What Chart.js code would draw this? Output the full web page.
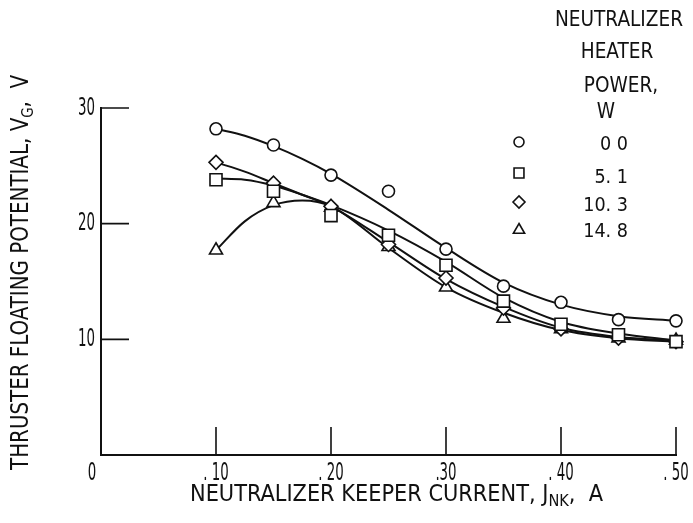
<!DOCTYPE html>
<html>
<head>
<meta charset="utf-8">
<script src="https://cdn.jsdelivr.net/npm/chart.js@4.4.1/dist/chart.umd.min.js"></script>
<style>
  html, body { margin: 0; padding: 0; background: #fff; }
  #wrap { width: 693px; height: 523px; }
</style>
</head>
<body>
<div id="wrap"><canvas id="chart" width="693" height="523"></canvas></div>
<script>
// neutralizer keeper current, A
const keeperCurrent = [0.10, 0.15, 0.20, 0.25, 0.30, 0.35, 0.40, 0.45, 0.50];

// measured thruster floating potential, V (one list per heater power)
const vgHeater00 = [28.2, 26.8, 24.2, 22.8, 17.8, 14.6, 13.2, 11.7, 11.6];
const vgHeater51 = [23.8, 22.8, 20.7, 19.0, 16.4, 13.3, 11.3, 10.4, 9.8];
const vgHeater103 = [25.3, 23.5, 21.5, 18.2, 15.3, 12.7, 10.9, 10.1, 9.8];
const vgHeater148 = [17.7, 21.8, 21.4, 18.0, 14.5, 11.8, 10.9, 10.1, 9.9];

// faired curves through each set
const fairCurrent = [0.10, 0.125, 0.15, 0.175, 0.20, 0.25, 0.30, 0.35, 0.40, 0.45, 0.50];
const fairHeater00 = [28.2, 27.6, 26.7, 25.6, 24.3, 21.2, 17.9, 14.9, 13.0, 12.0, 11.6];
const fairHeater51 = [23.9, 23.8, 23.3, 22.5, 21.6, 19.4, 16.7, 13.6, 11.5, 10.5, 9.9];
const fairHeater103 = [25.3, 24.5, 23.5, 22.5, 21.5, 18.4, 15.2, 12.8, 11.0, 10.2, 9.9];
const fairHeater148 = [17.7, 20.2, 21.6, 22.0, 21.5, 17.9, 14.5, 12.3, 10.8, 10.1, 9.8];

// axis ticks
const xTickValues = [0, 0.10, 0.20, 0.30, 0.40, 0.50];
const xTickLabels = ['0', '. 10', '. 20', '.30', '. 40', '. 50'];
const yTickValues = [10, 20, 30];
const yTickLabels = ['10', '20', '30'];

// legend
const legendLabels = ['0 0', '5. 1', '10. 3', '14. 8'];

const INK = '#111';
const FONT = '"Liberation Sans Narrow", "DejaVu Sans Condensed", "Liberation Sans", sans-serif';

const markerStyles = [
  { pointStyle: 'circle', radius: 6 },
  { pointStyle: 'rect', radius: 8.5 },
  { pointStyle: 'rectRot', radius: 7 },
  { pointStyle: 'triangle', radius: 7.5 }
];

function pairs(xs, ys) {
  return xs.map((x, i) => ({ x, y: ys[i] }));
}

function setFont(ctx, size) {
  ctx.font = `${size}px ${FONT}`;
}

function textWidth(ctx, str, size) {
  setFont(ctx, size);
  return ctx.measureText(str).width;
}

function drawSqueezed(ctx, str, x, y, size, sx, align) {
  const w = textWidth(ctx, str, size) * sx;
  const left = align === 'center' ? x - w / 2 : align === 'right' ? x - w : x;
  ctx.save();
  ctx.translate(left, y);
  ctx.scale(sx, 1);
  ctx.textAlign = 'left';
  ctx.textBaseline = 'middle';
  ctx.fillText(str, 0, 0);
  ctx.restore();
  return w;
}

// title made of pieces (for subscripts), stretched to a given length
function drawTitle(ctx, pieces, x, y, length) {
  const natural = pieces.reduce((s, p) => s + textWidth(ctx, p.t, p.size), 0);
  const sx = length / natural;
  let cx = x;
  pieces.forEach((p) => {
    cx += drawSqueezed(ctx, p.t, cx, y + (p.dy || 0), p.size, sx, 'left');
  });
}

const inkLayer = {
  id: 'inkLayer',
  afterDraw(chart) {
    const { ctx, chartArea, scales } = chart;
    const xs = scales.x;
    const ys = scales.y;
    ctx.save();
    ctx.fillStyle = INK;
    ctx.strokeStyle = INK;

    // inward tick marks
    ctx.lineWidth = 1.6;
    ctx.beginPath();
    yTickValues.forEach((v) => {
      const py = ys.getPixelForValue(v);
      ctx.moveTo(chartArea.left, py);
      ctx.lineTo(chartArea.left + 28, py);
    });
    xTickValues.forEach((v) => {
      if (v === 0) return;
      const px = xs.getPixelForValue(v);
      ctx.moveTo(px, chartArea.bottom);
      ctx.lineTo(px, chartArea.bottom - 28);
    });
    ctx.stroke();

    // tick labels
    const tickSize = 25;
    const tickSx = 17 / textWidth(ctx, '20', tickSize);
    yTickValues.forEach((v, i) => {
      drawSqueezed(ctx, yTickLabels[i], chartArea.left - 6, ys.getPixelForValue(v), tickSize, tickSx, 'right');
    });
    xTickValues.forEach((v, i) => {
      const px = xs.getPixelForValue(v) + (v === 0 ? -9 : 0);
      drawSqueezed(ctx, xTickLabels[i], px, chartArea.bottom + 18, tickSize, tickSx, 'center');
    });

    // x axis title
    drawTitle(ctx, [
      { t: 'NEUTRALIZER KEEPER CURRENT, J', size: 23 },
      { t: 'NK', size: 16, dy: 7 },
      { t: ',  A', size: 23 }
    ], 190, 495, 413);

    // y axis title, reading upward
    ctx.save();
    ctx.translate(22, 470);
    ctx.rotate(-Math.PI / 2);
    drawTitle(ctx, [
      { t: 'THRUSTER FLOATING POTENTIAL, V', size: 24 },
      { t: 'G', size: 16, dy: 7 },
      { t: ',  V', size: 24 }
    ], 0, 0, 395);
    ctx.restore();

    // legend heading
    const headSize = 21;
    const headSx = 128 / textWidth(ctx, 'NEUTRALIZER', headSize);
    drawSqueezed(ctx, 'NEUTRALIZER', 619, 21, headSize, headSx, 'center');
    drawSqueezed(ctx, 'HEATER', 617, 53, headSize, headSx, 'center');
    drawSqueezed(ctx, 'POWER,', 621, 87, headSize, headSx, 'center');
    drawSqueezed(ctx, 'W', 606, 113, headSize, headSx, 'center');

    // legend entries
    const rowY = [145, 178, 206, 232];
    const symY = [142, 173, 202, 230];
    const legendRadius = [5, 7, 6, 6.5];
    legendLabels.forEach((label, i) => {
      drawSqueezed(ctx, label, 628, rowY[i], 20, headSx, 'right');
      ctx.fillStyle = '#fff';
      ctx.lineWidth = 1.6;
      Chart.helpers.drawPoint(ctx, {
        pointStyle: markerStyles[i].pointStyle,
        radius: legendRadius[i],
        rotation: 0,
        borderWidth: 1.6
      }, 519, symY[i]);
      ctx.fillStyle = INK;
    });

    ctx.restore();
  }
};

const fairSets = [fairHeater00, fairHeater51, fairHeater103, fairHeater148];
const pointSets = [vgHeater00, vgHeater51, vgHeater103, vgHeater148];

const datasets = [];
fairSets.forEach((ys) => {
  datasets.push({
    data: pairs(fairCurrent, ys),
    borderColor: INK,
    borderWidth: 2,
    pointRadius: 0,
    cubicInterpolationMode: 'monotone',
    fill: false,
    clip: false,
    order: 2
  });
});
pointSets.forEach((ys, i) => {
  datasets.push({
    data: pairs(keeperCurrent, ys),
    showLine: false,
    pointStyle: markerStyles[i].pointStyle,
    pointRadius: markerStyles[i].radius,
    pointBackgroundColor: '#fff',
    pointBorderColor: INK,
    pointBorderWidth: 1.6,
    clip: false,
    order: 1
  });
});

new Chart(document.getElementById('chart'), {
  type: 'line',
  data: { datasets },
  options: {
    responsive: false,
    animation: false,
    layout: { padding: { top: 108, right: 17, bottom: 0, left: 0 } },
    plugins: {
      legend: { display: false },
      tooltip: { enabled: false }
    },
    scales: {
      x: {
        type: 'linear',
        min: 0,
        max: 0.5,
        afterBuildTicks(scale) { scale.ticks = xTickValues.map((value) => ({ value })); },
        afterFit(scale) { scale.height = 68; },
        ticks: { display: false },
        grid: { display: false, drawTicks: false },
        border: { display: true, color: INK, width: 2 }
      },
      y: {
        type: 'linear',
        min: 0,
        max: 30,
        afterBuildTicks(scale) { scale.ticks = yTickValues.map((value) => ({ value })); },
        afterFit(scale) { scale.width = 101; },
        ticks: { display: false },
        grid: { display: false, drawTicks: false },
        border: { display: true, color: INK, width: 2 }
      }
    }
  },
  plugins: [inkLayer]
});
</script>
</body>
</html>
